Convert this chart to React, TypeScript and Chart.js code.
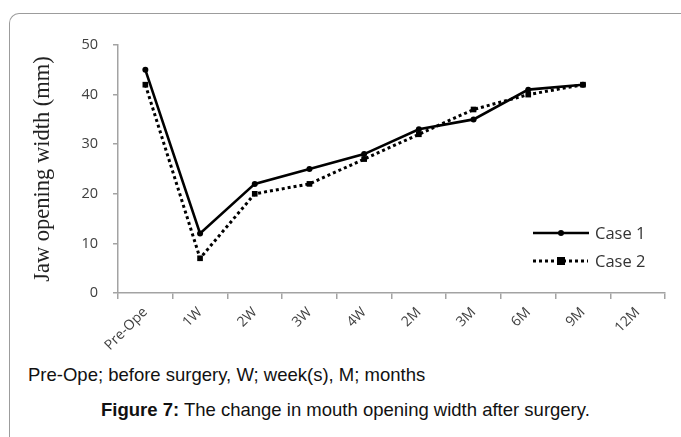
import React, { useEffect, useRef } from "react";
import { Chart, registerables } from "chart.js";

Chart.register(...registerables);

const categories = ["Pre-Ope", "1W", "2W", "3W", "4W", "2M", "3M", "6M", "9M", "12M"];
const case1 = [45, 12, 22, 25, 28, 33, 35, 41, 42];
const case2 = [42, 7, 20, 22, 27, 32, 37, 40, 42];
const yTicks = [0, 10, 20, 30, 40, 50];
const seriesNames = ["Case 1", "Case 2"];
const yTitle = "Jaw opening width (mm)";
const footnote = "Pre-Ope; before surgery, W; week(s), M; months";
const captionBold = "Figure 7:";
const captionText = " The change in mouth opening width after surgery.";

export default function App() {
  const ref = useRef<HTMLCanvasElement | null>(null);

  useEffect(() => {
    document.body.style.margin = "0";
    const canvas = ref.current;
    if (!canvas) return;
    const axisColor = "#a3a3a3";
    const chart = new Chart(canvas, {
      type: "line",
      data: {
        labels: categories,
        datasets: [
          {
            label: seriesNames[0],
            data: case1,
            borderColor: "#000",
            backgroundColor: "#000",
            borderWidth: 2.6,
            pointStyle: "circle",
            pointRadius: 3,
            pointBackgroundColor: "#000",
            pointBorderWidth: 0,
            tension: 0,
          },
          {
            label: seriesNames[1],
            data: case2,
            borderColor: "#000",
            backgroundColor: "#000",
            borderWidth: 3,
            borderDash: [3, 3],
            pointStyle: "rect",
            pointRadius: 4,
            pointBackgroundColor: "#000",
            pointBorderWidth: 0,
            tension: 0,
          },
        ],
      },
      options: {
        responsive: false,
        animation: false,
        devicePixelRatio: 1,
        layout: { padding: { top: 45, right: 16, bottom: 0, left: 0 } },
        plugins: { legend: { display: false }, tooltip: { enabled: false } },
        scales: {
          x: {
            type: "category",
            offset: true,
            grid: {
              display: true,
              drawOnChartArea: false,
              drawTicks: true,
              tickLength: 6,
              offset: true,
              color: axisColor,
              lineWidth: 1.5,
            },
            border: { display: true, color: axisColor, width: 1.5 },
            ticks: {
              minRotation: 45,
              maxRotation: 45,
              autoSkip: false,
              padding: 5,
              color: "#404040",
              font: { family: "Open Sans", size: 14 },
            },
            afterFit: (s: any) => {
              s.height = 67;
            },
          },
          y: {
            min: 0,
            max: 50,
            afterBuildTicks: (s: any) => {
              s.ticks = yTicks.map((v) => ({ value: v }));
            },
            grid: {
              display: true,
              drawOnChartArea: false,
              drawTicks: true,
              tickLength: 5,
              color: axisColor,
              lineWidth: 1.5,
            },
            border: { display: true, color: axisColor, width: 1.5 },
            ticks: {
              padding: 15,
              color: "#404040",
              font: { family: "Open Sans", size: 14.5 },
            },
            title: {
              display: true,
              text: yTitle,
              color: "#222",
              font: { family: "Liberation Serif", size: 22.5, weight: "normal" },
              padding: { top: 30, bottom: 0 },
            },
            afterFit: (s: any) => {
              s.width = 118;
            },
          },
        },
      },
    });
    return () => chart.destroy();
  }, []);

  return (
    <div style={{ position: "fixed", left: 0, top: 0, width: 681, height: 437, overflow: "hidden", background: "#fff" }}>
      <div
        style={{
          position: "absolute",
          left: 9,
          top: 13,
          width: 720,
          height: 460,
          borderLeft: "1px solid #9c9c9c",
          borderTop: "1px solid #9c9c9c",
          borderTopLeftRadius: 10,
        }}
      />
      <canvas ref={ref} width={681} height={360} style={{ position: "absolute", left: 0, top: 0, width: 681, height: 360 }} />
      <svg style={{ position: "absolute", left: 528, top: 220, overflow: "visible" }} width={70} height={50}>
        <line x1={5} y1={13} x2={61} y2={13} stroke="#000" strokeWidth={2.6} />
        <circle cx={33} cy={13} r={3} fill="#000" />
        <line x1={5} y1={41} x2={60} y2={41} stroke="#000" strokeWidth={3} strokeDasharray="3 3" />
        <rect x={29} y={37} width={8} height={8} fill="#000" />
      </svg>
      <div style={{ position: "absolute", left: 595, top: 222, fontFamily: "Open Sans", fontSize: 16.5, lineHeight: "22px", color: "#333", whiteSpace: "nowrap" }}>
        {seriesNames[0]}
      </div>
      <div style={{ position: "absolute", left: 595, top: 250, fontFamily: "Open Sans", fontSize: 16.5, lineHeight: "22px", color: "#333", whiteSpace: "nowrap" }}>
        {seriesNames[1]}
      </div>
      <div style={{ position: "absolute", left: 28, top: 366, fontFamily: "Liberation Sans", fontSize: 18.5, lineHeight: 1, color: "#111", whiteSpace: "nowrap" }}>
        {footnote}
      </div>
      <div style={{ position: "absolute", left: 101, top: 401, fontFamily: "Liberation Sans", fontSize: 18.5, lineHeight: 1, color: "#111", whiteSpace: "nowrap" }}>
        <b>{captionBold}</b>
        {captionText}
      </div>
    </div>
  );
}
